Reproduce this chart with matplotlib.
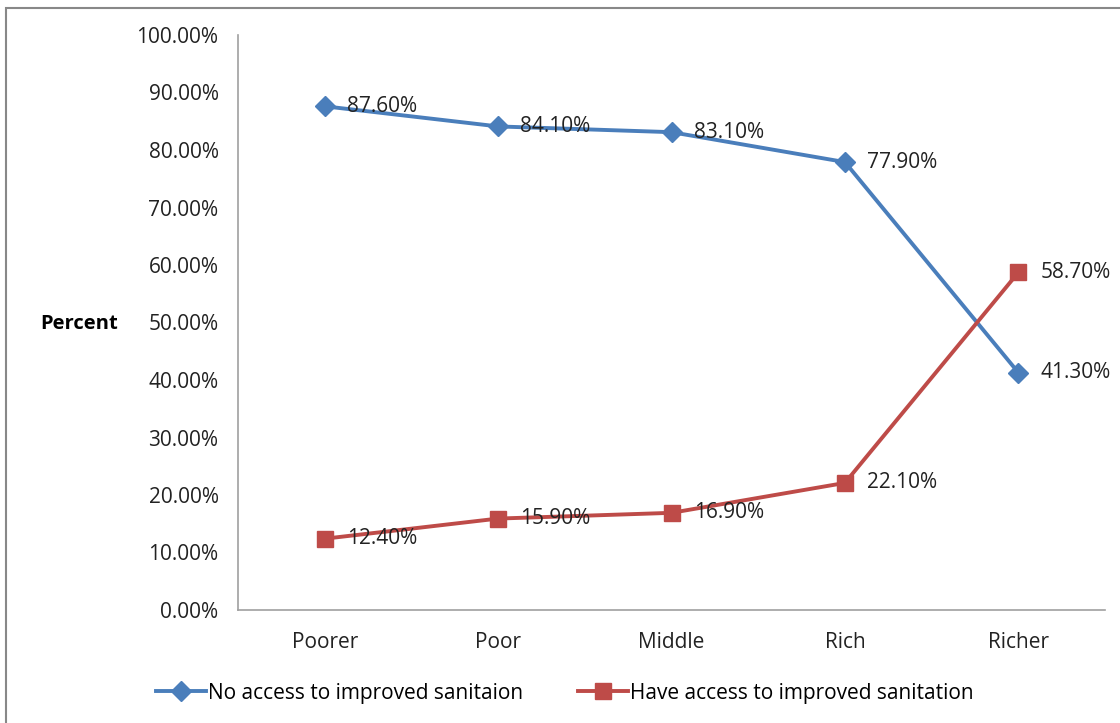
import matplotlib
matplotlib.use('Agg')
import matplotlib.pyplot as plt
from matplotlib.patches import Rectangle

plt.rcParams['font.family'] = ['Open Sans', 'DejaVu Sans']

categories = ['Poorer', 'Poor', 'Middle', 'Rich', 'Richer']
no_access = [87.6, 84.1, 83.1, 77.9, 41.3]
have_access = [12.4, 15.9, 16.9, 22.1, 58.7]
yticks = [0, 10, 20, 30, 40, 50, 60, 70, 80, 90, 100]

blue = '#4A7EBB'
red = '#BE4B48'

fig = plt.figure(figsize=(11.2, 7.23), dpi=100)
ax = fig.add_axes([238 / 1120, 1 - 610 / 723, (1105 - 238) / 1120, (610 - 35) / 723])

x = range(len(categories))
ax.plot(x, no_access, color=blue, lw=2.8, marker='D', ms=10, label='No access to improved sanitaion')
ax.plot(x, have_access, color=red, lw=2.8, marker='s', ms=12, label='Have access to improved sanitation')

for i, v in enumerate(no_access):
    ax.annotate(f'{v:.2f}%', (i, v), xytext=(16, 0), textcoords='offset points',
                va='center', ha='left', fontsize=15, color='#222222')
for i, v in enumerate(have_access):
    ax.annotate(f'{v:.2f}%', (i, v), xytext=(16, 0), textcoords='offset points',
                va='center', ha='left', fontsize=15, color='#222222')

ax.set_xlim(-0.5, 4.5)
ax.set_ylim(0, 100)
ax.set_yticks(yticks)
ax.set_yticklabels([f'{t:.2f}%' for t in yticks])
ax.set_xticks(list(x))
ax.set_xticklabels(categories)
ax.tick_params(axis='both', length=0, labelsize=15, colors='#222222')
ax.tick_params(axis='y', pad=14)
ax.tick_params(axis='x', pad=16)
for s in ['top', 'right']:
    ax.spines[s].set_visible(False)
for s in ['left', 'bottom']:
    ax.spines[s].set_color('#A0A0A0')
    ax.spines[s].set_linewidth(1.2)

fig.text(40 / 1120, 1 - 324 / 723, 'Percent', fontsize=14.5, fontweight='bold', va='center', ha='left')

fig.legend(loc='center left', bbox_to_anchor=(148 / 1120, 1 - 693 / 723), ncol=2, frameon=False,
           fontsize=15, handlelength=2.4, handletextpad=0.1, columnspacing=2.6, borderaxespad=0)

fig.patches.append(Rectangle((6 / 1120, -0.02), 1.1, 1 - 8 / 723 + 0.02, transform=fig.transFigure,
                             fill=False, edgecolor='#888888', lw=1.5))

fig.savefig('out.png', dpi=100)
